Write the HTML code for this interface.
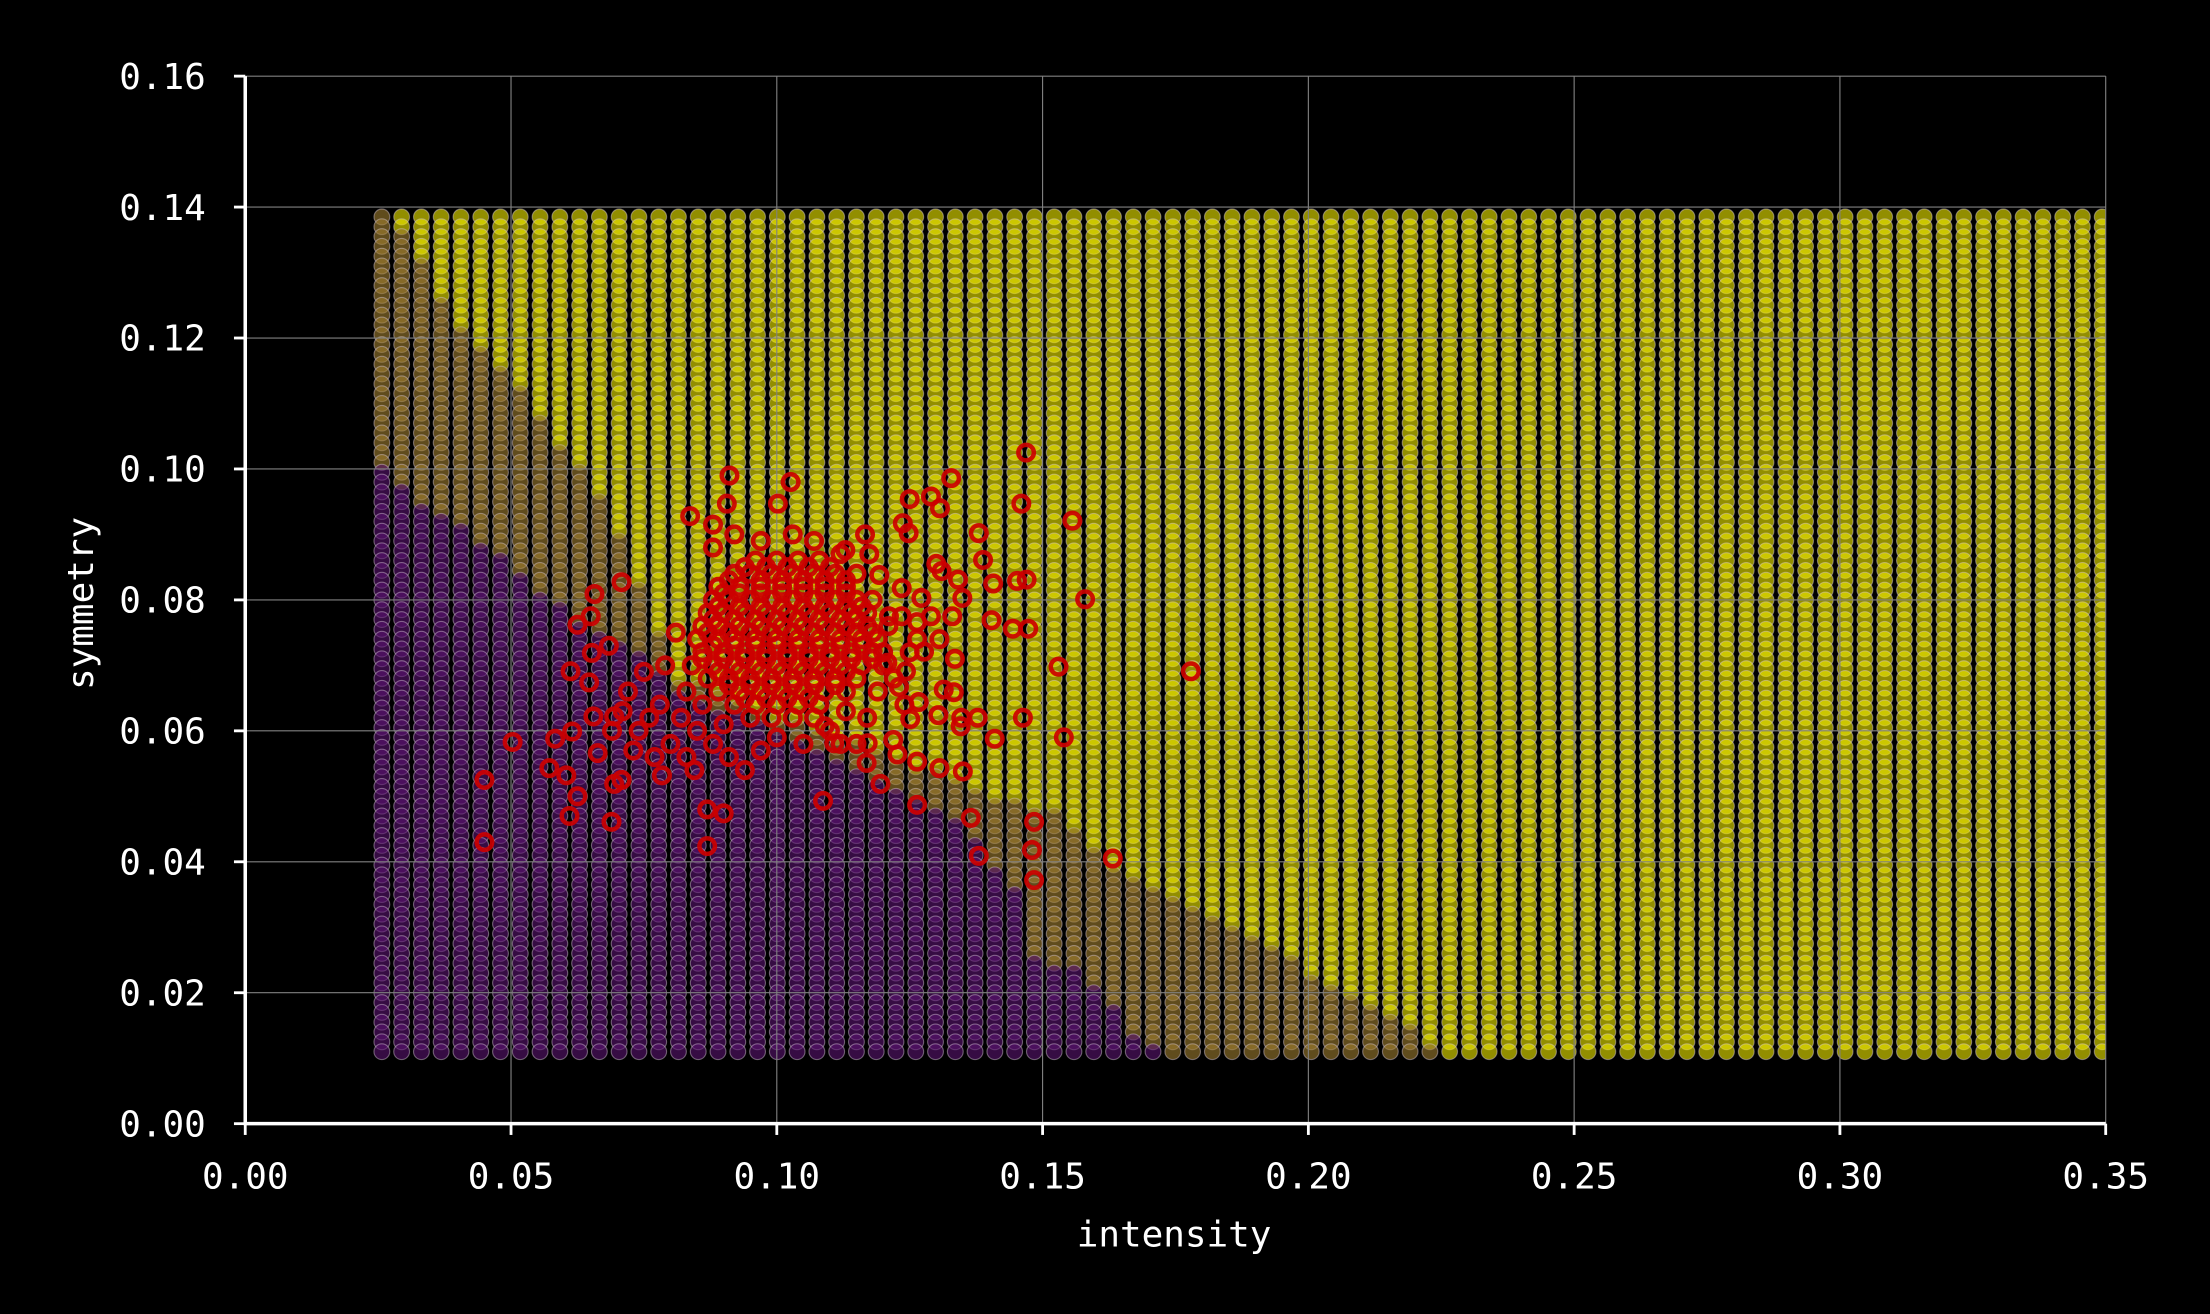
<!DOCTYPE html>
<html><head><meta charset="utf-8"><style>
html,body{margin:0;padding:0;background:#000;}
svg{display:block;}
text{font-family:"DejaVu Sans Mono","Liberation Mono",monospace;fill:#fff;}
</style></head><body>
<svg id="chart" xmlns="http://www.w3.org/2000/svg" width="2210" height="1314" viewBox="0 0 1568 932" preserveAspectRatio="none">
<rect x="0" y="0" width="1568" height="932" fill="#000"/>
<defs><clipPath id="plotclip"><rect x="174" y="40" width="1320" height="757"/></clipPath></defs>
<g id="cols" clip-path="url(#plotclip)"></g>
<g id="grid"></g>
<g id="pts"></g>
<g id="axes"></g>
<text x="833" y="884" font-size="25.5" text-anchor="middle">intensity</text>
<text x="0" y="0" font-size="25.5" text-anchor="middle" transform="translate(66,428) rotate(-90)">symmetry</text>
</svg>
<script>
const xTicks = [0.00,0.05,0.10,0.15,0.20,0.25,0.30,0.35];
const yTicks = [0.00,0.02,0.04,0.06,0.08,0.10,0.12,0.14,0.16];
const gridX0 = 0.0257, gridXStep = 0.00372, gridXCount = 88;
const gridY0 = 0.011, gridYStep = 0.0015, gridYCount = 86;
const upperBX = [0.0,0.026,0.033,0.041,0.052,0.060,0.067,0.074,0.081,0.100,0.120,0.140,0.152,0.163,0.1745,0.189,0.204,0.215,0.225,0.4];
const upperBY = [0.15,0.140,0.132,0.120,0.112,0.103,0.095,0.083,0.068,0.062,0.056,0.050,0.0474,0.039,0.035,0.029,0.0209,0.0168,0.011,0.0];
const lowerBX = [0.0,0.026,0.033,0.041,0.052,0.060,0.067,0.074,0.081,0.100,0.120,0.135,0.145,0.148,0.159,0.167,0.172,0.4];
const lowerBY = [0.105,0.0997,0.095,0.0914,0.0833,0.0784,0.075,0.0717,0.066,0.060,0.052,0.045,0.035,0.026,0.022,0.0135,0.011,0.0];
const ptsX = [0.1469,0.146,0.1556,0.1328,0.125,0.129,0.1307,0.1237,0.1248,0.138,0.1388,0.130,0.131,0.1341,0.1407,0.1452,0.147,0.158,0.1779,0.153,0.1463,0.154,0.141,0.1347,0.1378,0.135,0.1365,0.1484,0.148,0.1484,0.138,0.1632,0.1264,0.1195,0.1169,0.1087,0.0869,0.0869,0.090,0.0689,0.061,0.045,0.045,0.0503,0.0625,0.0572,0.0604,0.0583,0.0615,0.0708,0.0694,0.0784,0.0845,0.0625,0.0657,0.0708,0.065,0.0684,0.0652,0.0612,0.0647,0.0694,0.0655,0.0663,0.0837,0.0911,0.0906,0.1026,0.1002,0.088,0.1166,0.1129,0.1174,0.1193,0.1235,0.1272,0.1349,0.1211,0.1235,0.1264,0.129,0.133,0.1404,0.1444,0.1473,0.1264,0.1306,0.1277,0.1335,0.1208,0.123,0.1243,0.1314,0.1333,0.1267,0.1304,0.1346,0.1251,0.1219,0.1227,0.1264,0.1306,0.1171,0.1108,0.109,
0.096,0.100,0.104,0.108,
0.092,0.095,0.099,0.103,0.107,0.111,
0.089,0.093,0.097,0.101,0.105,0.109,0.113,
0.088,0.091,0.095,0.099,0.103,0.107,0.111,0.115,
0.087,0.090,0.094,0.098,0.102,0.106,0.110,0.114,0.117,
0.086,0.089,0.093,0.097,0.101,0.105,0.109,0.113,0.117,
0.085,0.089,0.092,0.096,0.100,0.104,0.108,0.112,0.116,0.119,
0.086,0.090,0.094,0.098,0.102,0.106,0.110,0.114,0.118,
0.084,0.088,0.092,0.096,0.100,0.104,0.108,0.112,0.116,0.120,
0.087,0.091,0.095,0.099,0.103,0.107,0.111,0.115,
0.089,0.093,0.097,0.101,0.105,0.109,0.113,
0.092,0.096,0.100,0.104,0.108,
0.095,0.099,0.103,0.107,
0.072,0.075,0.078,0.074,0.080,0.077,0.082,0.079,0.083,0.081,0.085,0.088,0.091,0.094,0.097,0.090,0.086,0.073,0.076,0.071,0.069,0.083,0.088,0.092,0.097,0.103,0.107,0.112,0.115,0.118,0.121,0.120,0.122,0.119,0.117,0.113,0.110,0.105,0.100,0.124,0.125,0.115,0.112,
0.094,0.098,0.102,0.106,0.110,
0.091,0.097,0.101,0.105,0.109,0.113,
0.090,0.093,0.097,0.101,0.105,0.109,0.113,
0.089,0.093,0.097,0.101,0.105,0.109,0.113,0.116,
0.088,0.092,0.096,0.100,0.104,0.108,0.112,0.115,
0.087,0.091,0.095,0.099,0.103,0.107,0.111,0.115,0.118,
0.088,0.092,0.096,0.100,0.104,0.108,0.112,0.116,
0.086,0.090,0.094,0.098,0.102,0.106,0.110,0.114,0.118,
0.089,0.093,0.097,0.101,0.105,0.109,0.113,
0.091,0.095,0.099,0.103,0.107,0.111,
0.094,0.098,0.102,0.106];
const ptsY = [0.1025,0.0947,0.0921,0.0986,0.0954,0.0958,0.094,0.0917,0.0902,0.0902,0.0861,0.0855,0.0844,0.0831,0.0825,0.0829,0.0831,0.0801,0.0691,0.0698,0.062,0.059,0.0588,0.062,0.062,0.0538,0.0467,0.0461,0.0418,0.0372,0.0409,0.0405,0.0487,0.0519,0.0551,0.0493,0.0424,0.048,0.0474,0.0461,0.047,0.043,0.0525,0.0583,0.050,0.0543,0.0532,0.0588,0.0599,0.0525,0.0519,0.0532,0.054,0.0762,0.0809,0.0827,0.0775,0.073,0.0719,0.0691,0.0674,0.0622,0.0622,0.0566,0.0928,0.099,0.0947,0.098,0.0947,0.0915,0.090,0.0876,0.087,0.0838,0.0818,0.0803,0.0803,0.0775,0.0775,0.0766,0.0775,0.0775,0.0769,0.0756,0.0756,0.074,0.074,0.0721,0.071,0.0704,0.0667,0.0691,0.0663,0.0659,0.0644,0.0624,0.0607,0.0618,0.0586,0.0564,0.0553,0.0543,0.0581,0.0581,0.0607,
0.086,0.086,0.086,0.086,
0.084,0.084,0.084,0.084,0.084,0.084,
0.082,0.082,0.082,0.082,0.082,0.082,0.082,
0.080,0.080,0.080,0.080,0.080,0.080,0.080,0.080,
0.078,0.078,0.078,0.078,0.078,0.078,0.078,0.078,0.078,
0.076,0.076,0.076,0.076,0.076,0.076,0.076,0.076,0.076,
0.074,0.074,0.074,0.074,0.074,0.074,0.074,0.074,0.074,0.074,
0.072,0.072,0.072,0.072,0.072,0.072,0.072,0.072,0.072,
0.070,0.070,0.070,0.070,0.070,0.070,0.070,0.070,0.070,0.070,
0.068,0.068,0.068,0.068,0.068,0.068,0.068,0.068,
0.066,0.066,0.066,0.066,0.066,0.066,0.066,
0.064,0.064,0.064,0.064,0.064,
0.062,0.062,0.062,0.062,
0.066,0.069,0.064,0.060,0.058,0.056,0.062,0.070,0.066,0.075,0.060,0.058,0.056,0.054,0.057,0.061,0.064,0.057,0.062,0.063,0.060,0.056,0.088,0.090,0.089,0.090,0.089,0.087,0.084,0.080,0.076,0.072,0.068,0.066,0.062,0.063,0.060,0.058,0.059,0.064,0.072,0.058,0.058,
0.085,0.085,0.085,0.085,0.085,
0.083,0.083,0.083,0.083,0.083,0.083,
0.081,0.081,0.081,0.081,0.081,0.081,0.081,
0.079,0.079,0.079,0.079,0.079,0.079,0.079,0.079,
0.077,0.077,0.077,0.077,0.077,0.077,0.077,0.077,
0.075,0.075,0.075,0.075,0.075,0.075,0.075,0.075,0.075,
0.073,0.073,0.073,0.073,0.073,0.073,0.073,0.073,
0.071,0.071,0.071,0.071,0.071,0.071,0.071,0.071,0.071,
0.069,0.069,0.069,0.069,0.069,0.069,0.069,
0.067,0.067,0.067,0.067,0.067,0.067,
0.065,0.065,0.065,0.065];

const NS = "http://www.w3.org/2000/svg";
const X = v => 174 + v / 0.35 * 1320;
const Y = v => 797 - v / 0.16 * 743;
function interp(xs, ys, x){
  for (let i=1;i<xs.length;i++){ if (x<=xs[i]){ const t=(x-xs[i-1])/(xs[i]-xs[i-1]); return ys[i-1]+t*(ys[i]-ys[i-1]); } }
  return ys[ys.length-1];
}
const cols = document.getElementById('cols');
const colors = {yellow:'#f4ec00', brown:'#a07e30', purple:'#5a1470'};
let html = '';
for (let i=0;i<gridXCount;i++){
  const gx = gridX0 + i*gridXStep;
  const ub = interp(upperBX, upperBY, gx), lb = interp(lowerBX, lowerBY, gx);
  const cx = X(gx).toFixed(2);
  for (let j=gridYCount-1;j>=0;j--){
    const gy = gridY0 + j*gridYStep;
    const c = gy > ub ? colors.yellow : (gy > lb ? colors.brown : colors.purple);
    html += `<circle cx="${cx}" cy="${Y(gy).toFixed(2)}" r="5.6" fill="${c}" fill-opacity="0.6" stroke="#d8c8d8" stroke-opacity="0.45" stroke-width="0.8"/>`;
  }
}
cols.innerHTML = html;

const grid = document.getElementById('grid');
xTicks.forEach(t=>{
  if (t===0) return;
  const l=document.createElementNS(NS,'line');
  
  
  l.setAttribute('x1',X(t));l.setAttribute('x2',X(t));l.setAttribute('y1',Y(0.16));l.setAttribute('y2',797);
  l.setAttribute('stroke','#808080');l.setAttribute('stroke-width','0.8');
  grid.appendChild(l);
});
yTicks.forEach(t=>{
  if (t===0) return;
  const l=document.createElementNS(NS,'line');
  
  
  l.setAttribute('x1',174);l.setAttribute('x2',1494);l.setAttribute('y1',Y(t));l.setAttribute('y2',Y(t));
  l.setAttribute('stroke','#808080');l.setAttribute('stroke-width','0.8');
  grid.appendChild(l);
});

const pts = document.getElementById('pts');
for (let i=0;i<ptsX.length;i++){
  const c=document.createElementNS(NS,'circle');
  
  
  c.setAttribute('cx',X(ptsX[i]).toFixed(2));
  c.setAttribute('cy',Y(ptsY[i]).toFixed(2));
  c.setAttribute('r','5.5');
  c.setAttribute('fill','none');
  c.setAttribute('stroke','#cc0000');
  c.setAttribute('stroke-opacity','0.92');
  c.setAttribute('stroke-width','3.2');
  pts.appendChild(c);
}

const axes = document.getElementById('axes');
function line(x1,y1,x2,y2,w,name){
  const l=document.createElementNS(NS,'line');
  
  
  l.setAttribute('x1',x1);l.setAttribute('y1',y1);l.setAttribute('x2',x2);l.setAttribute('y2',y2);
  l.setAttribute('stroke','#fff');l.setAttribute('stroke-width',w);
  axes.appendChild(l);
}
line(174,54,174,798,2.5,'y-axis-spine');
line(173,797,1494,797,2.5,'x-axis-spine');
xTicks.forEach(t=>{
  line(X(t),797,X(t),805,2,'x-tick');
  const tx=document.createElementNS(NS,'text');
  
  
  tx.setAttribute('x',X(t));tx.setAttribute('y',843);
  tx.setAttribute('font-size','25.5');tx.setAttribute('text-anchor','middle');
  tx.textContent=t.toFixed(2);
  axes.appendChild(tx);
});
yTicks.forEach(t=>{
  line(166,Y(t),174,Y(t),2,'y-tick');
  const tx=document.createElementNS(NS,'text');
  
  
  tx.setAttribute('x',146);tx.setAttribute('y',Y(t)+9);
  tx.setAttribute('font-size','25.5');tx.setAttribute('text-anchor','end');
  tx.textContent=t.toFixed(2);
  axes.appendChild(tx);
});
</script>
</body></html>
